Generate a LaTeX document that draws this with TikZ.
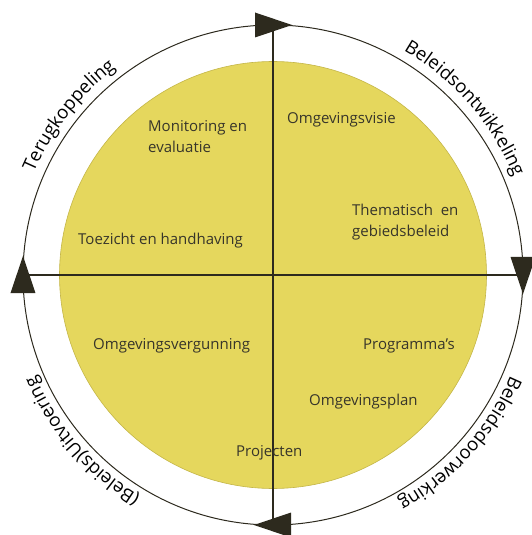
\documentclass[tikz,border=0pt]{standalone}
\usepackage{fontspec}
\setmainfont{Open Sans}
\usetikzlibrary{decorations.text,calc}
\definecolor{disc}{RGB}{229,215,93}
\definecolor{discedge}{RGB}{196,182,72}
\definecolor{ink}{RGB}{45,42,30}
\definecolor{txt}{RGB}{55,53,42}
\begin{document}
\begin{tikzpicture}[x=1pt,y=1pt,
  ring/.style={draw=ink, line width=1pt},
  axisline/.style={draw=ink, line width=1.3pt},
  tri/.style={fill=ink},
  lbl/.style={anchor=base west, inner sep=0pt, text=txt, align=left, font=\fontsize{15}{21}\selectfont},
  arclbl/.style={decorate, decoration={text along path, text align=center, text={|\fontsize{18.5}{20}\selectfont\color{black}|#1}}}
]
\useasboundingbox (-273,-260) rectangle (259,275);
\coordinate (C) at (0,0);
\fill[disc] (C) circle (213.5);
\draw[discedge, line width=0.6pt] (C) circle (213.5);
\draw[ring] (C) circle (250);
\coordinate (T) at (0,250);
\coordinate (B) at (0,-250);
\coordinate (L) at (-250,0);
\coordinate (R) at (250,0);
\draw[axisline] (T) -- (B);
\draw[axisline] (L) -- (R);
% arrowheads (clockwise)
\fill[tri] ($(T)+(-18,12.5)$) -- ($(T)+(19,0)$) -- ($(T)+(-18,-12.5)$) -- cycle;
\fill[tri] ($(R)+(12.5,18)$) -- ($(R)+(0,-19)$) -- ($(R)+(-12.5,18)$) -- cycle;
\fill[tri] ($(B)+(18,12.5)$) -- ($(B)+(-19,0)$) -- ($(B)+(18,-12.5)$) -- cycle;
\fill[tri] ($(L)+(12.5,-18)$) -- ($(L)+(0,19)$) -- ($(L)+(-12.5,-18)$) -- cycle;
% arc labels
\path[arclbl={Terugkoppeling}] (172:260) arc[start angle=172, end angle=112, radius=260];
\path[arclbl={Beleidsontwikkeling}] (71:260) arc[start angle=71, end angle=11, radius=260];
\path[arclbl={Beleidsdoorwerking}] (-12:258) arc[start angle=-12, end angle=-72, radius=258];
\path[arclbl={(Beleids)Uitvoering}] (251:258) arc[start angle=251, end angle=191, radius=258];
% inner texts
\node[lbl] (mon) at (-125,122) {Monitoring en\\evaluatie};
\node[lbl] (visie) at (14,151) {Omgevingsvisie};
\node[lbl] (them) at (79,38) {Thematisch\ \ en\\gebiedsbeleid};
\node[lbl] (toez) at (-195,30) {Toezicht en handhaving};
\node[lbl] (verg) at (-180,-74) {Omgevingsvergunning};
\node[lbl] (prog) at (90,-74) {Programma's};
\node[lbl] (plan) at (36,-130) {Omgevingsplan};
\node[lbl] (proj) at (-37,-181) {Projecten};
\end{tikzpicture}
\end{document}
